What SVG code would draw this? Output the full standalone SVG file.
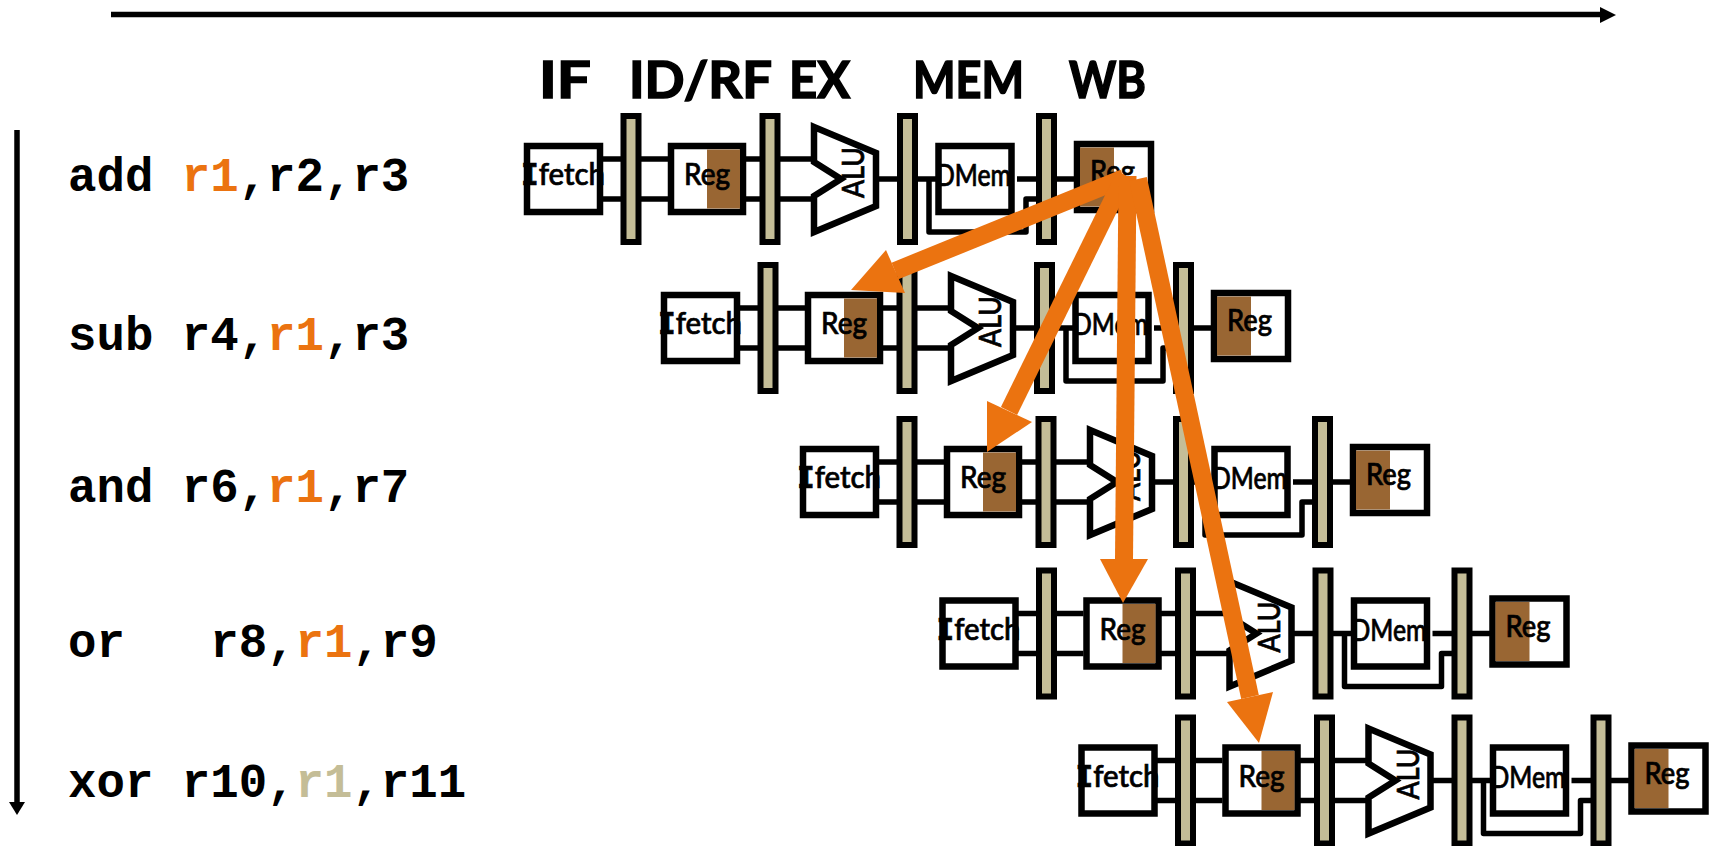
<svg xmlns="http://www.w3.org/2000/svg" xmlns:xlink="http://www.w3.org/1999/xlink" width="1711" height="846" viewBox="0 0 1711 846">
<style>
.box{fill:#fff;stroke:#000;stroke-width:6.5}
.wire{fill:none;stroke:#000;stroke-width:5.5;stroke-linejoin:round}
.latch{fill:#c4bd97;stroke:#000;stroke-width:6}
.brown{fill:#996633}
.lbl{font-family:"Lato","Open Sans",sans-serif;font-weight:500;font-size:30px;fill:#000;stroke:#000;stroke-width:.7}
.stage{font-family:"Lato","Open Sans",sans-serif;font-weight:700;font-size:52px;fill:#000;stroke:#000;stroke-width:1.6}
.mono{font-family:"DejaVu Sans Mono",monospace;font-weight:700}
.code{font-family:"Liberation Mono",monospace;font-weight:700;font-size:47.4px;fill:#000;white-space:pre}
.or{fill:#eb7310}
.tan{fill:#c4bd97}
.ar{stroke:#eb7310;stroke-width:18;fill:none}
.head{fill:#eb7310}
</style>
<defs>
<g id="stageRow">
<path class="wire" d="M600 159H668M600 199H668M744 159H813M744 199H813M878 179H936M1017 179H1075M929 179V232H1026V199H1037"/>
<rect class="latch" x="623.500" y="116" width="15" height="126"/>
<rect class="latch" x="762.500" y="116" width="15" height="126"/>
<rect class="latch" x="900" y="116" width="15" height="126"/>
<rect class="latch" x="1039" y="116" width="15" height="126"/>
<rect class="box" x="527" y="146" width="73" height="66"/>
<text class="lbl" x="521" y="185" textLength="84" lengthAdjust="spacingAndGlyphs"><tspan class="mono">I</tspan>fetch</text>
<rect class="box" x="671" y="146" width="72" height="66"/>
<rect class="brown" x="707" y="149.500" width="33" height="59"/>
<text class="lbl" x="684" y="185" textLength="46" lengthAdjust="spacingAndGlyphs">Reg</text>
<path class="box" d="M814 127L876 153V206L814 232V196L841 179L814 162Z"/>
<text class="lbl" transform="translate(864 198) rotate(-90)" textLength="51" lengthAdjust="spacingAndGlyphs">ALU</text>
<rect class="box" x="938.500" y="146" width="73" height="66"/>
<text class="lbl" x="936" y="186" textLength="75" lengthAdjust="spacingAndGlyphs">DMem</text>
<rect class="box" x="1077" y="144" width="74" height="66"/>
<rect class="brown" x="1080" y="147.500" width="34" height="59"/>
<text class="lbl" x="1090" y="182" textLength="45" lengthAdjust="spacingAndGlyphs">Reg</text>
</g>
</defs>
<g id="axes">
<path d="M111 14.500H1602" stroke="#000" stroke-width="5.500" fill="none"/>
<path d="M1600 7L1616 15L1600 23Z" fill="#000"/>
<path d="M17 130V804" stroke="#000" stroke-width="5.500" fill="none"/>
<path d="M9 802H25L17 815Z" fill="#000"/>
</g>
<g id="stage-labels">
<text class="stage" x="539" y="97.500" textLength="52" lengthAdjust="spacingAndGlyphs">IF</text>
<text class="stage" x="629" y="97.500" textLength="143" lengthAdjust="spacingAndGlyphs">ID/RF</text>
<text class="stage" x="789" y="97.500" textLength="61" lengthAdjust="spacingAndGlyphs">EX</text>
<text class="stage" x="913" y="97.500" textLength="111" lengthAdjust="spacingAndGlyphs">MEM</text>
<text class="stage" x="1069" y="97.500" textLength="77" lengthAdjust="spacingAndGlyphs">WB</text>
</g>
<g id="code">
<text class="code" x="68" y="191" xml:space="preserve">add <tspan class="or">r1</tspan>,r2,r3</text>
<text class="code" x="68" y="350" xml:space="preserve">sub r4,<tspan class="or">r1</tspan>,r3</text>
<text class="code" x="68" y="501.500" xml:space="preserve">and r6,<tspan class="or">r1</tspan>,r7</text>
<text class="code" x="68" y="657" xml:space="preserve">or   r8,<tspan class="or">r1</tspan>,r9</text>
<text class="code" x="68" y="797" xml:space="preserve">xor r10,<tspan class="tan">r1</tspan>,r11</text>
</g>
<g id="row-add"><use xlink:href="#stageRow" href="#stageRow"/></g>
<g id="row-sub"><use xlink:href="#stageRow" href="#stageRow" x="137" y="149"/></g>
<g id="row-and"><use xlink:href="#stageRow" href="#stageRow" x="276" y="303"/></g>
<g id="row-or"><use xlink:href="#stageRow" href="#stageRow" x="415.500" y="454.500"/></g>
<g id="row-xor"><use xlink:href="#stageRow" href="#stageRow" x="554.500" y="601.500"/></g>
<g id="connectors">
<path class="ar" d="M1124 178L895 271"/><path class="head" d="M851 290L886 250L905 293Z"/>
<path class="ar" d="M1125 175L1009 411"/><path class="head" d="M987 452L987 401L1032 422Z"/>
<path class="ar" d="M1127.500 176L1124 560"/><path class="head" d="M1123 603L1100 559L1148 559Z"/>
<path class="ar" d="M1138 179L1250 697"/><path class="head" d="M1259 743L1227 702L1273 692Z"/>
</g>
</svg>
